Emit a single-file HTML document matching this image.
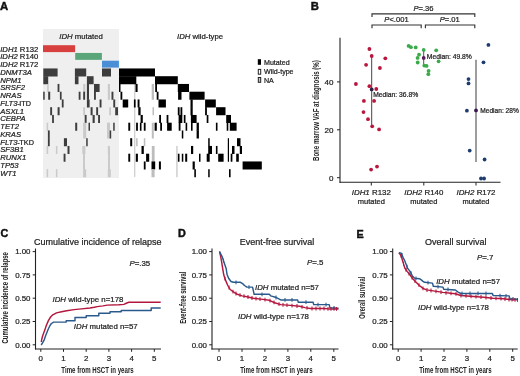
<!DOCTYPE html>
<html><head><meta charset="utf-8"><style>
html,body{margin:0;padding:0;background:#fff;}
svg{display:block;font-family:"Liberation Sans", sans-serif;filter:blur(0.35px);}
text{stroke:#222;stroke-width:0.22px;}
text[font-weight=bold]{stroke-width:0;}
text.pl{stroke:#111;stroke-width:0.45px;}
</style></head><body>
<svg width="520" height="376" viewBox="0 0 520 376">
<rect width="520" height="376" fill="#fff"/>
<rect x="43" y="29" width="76" height="149" fill="#efefef"/>
<rect x="43" y="45.2" width="32.1" height="6.9" fill="#d8403f"/>
<rect x="75.2" y="52.95" width="26.7" height="6.9" fill="#5aa57a"/>
<rect x="102" y="60.7" width="16.9" height="6.9" fill="#4a8fd6"/>
<rect x="134.2" y="83.95" width="1.1" height="92.99999999999999" fill="#c6c6c6"/>
<rect x="43.3" y="68.45" width="14.3" height="8.05" fill="#3d3d3d"/>
<rect x="74.9" y="68.45" width="11.3" height="8.05" fill="#3d3d3d"/>
<rect x="102.0" y="68.45" width="9.0" height="8.05" fill="#3d3d3d"/>
<rect x="119.0" y="68.45" width="36.0" height="8.05" fill="#000"/>
<rect x="43.3" y="76.20" width="4.9" height="8.05" fill="#3d3d3d"/>
<rect x="74.9" y="76.20" width="3.6" height="8.05" fill="#3d3d3d"/>
<rect x="86.9" y="76.20" width="6.7" height="8.05" fill="#3d3d3d"/>
<rect x="119.0" y="76.20" width="17.3" height="8.05" fill="#000"/>
<rect x="155.0" y="76.20" width="22.8" height="8.05" fill="#000"/>
<rect x="47.2" y="83.95" width="1.5" height="8.05" fill="#cacaca"/>
<rect x="83.2" y="83.95" width="2.2" height="8.05" fill="#cacaca"/>
<rect x="107.8" y="83.95" width="2.2" height="8.05" fill="#cacaca"/>
<rect x="57.6" y="83.95" width="1.8" height="8.05" fill="#3d3d3d"/>
<rect x="86.9" y="83.95" width="2.1" height="8.05" fill="#3d3d3d"/>
<rect x="94.0" y="83.95" width="5.6" height="8.05" fill="#3d3d3d"/>
<rect x="151.7" y="83.95" width="2.3" height="8.05" fill="#bdbdbd"/>
<rect x="119.0" y="83.95" width="1.5" height="8.05" fill="#000"/>
<rect x="135.5" y="83.95" width="2.1" height="8.05" fill="#000"/>
<rect x="155.2" y="83.95" width="1.8" height="8.05" fill="#000"/>
<rect x="177.8" y="83.95" width="11.2" height="8.05" fill="#000"/>
<rect x="107.8" y="91.70" width="2.2" height="8.05" fill="#cacaca"/>
<rect x="43.2" y="91.70" width="1.5" height="8.05" fill="#3d3d3d"/>
<rect x="48.2" y="91.70" width="2.0" height="8.05" fill="#3d3d3d"/>
<rect x="59.9" y="91.70" width="1.7" height="8.05" fill="#3d3d3d"/>
<rect x="78.7" y="91.70" width="1.8" height="8.05" fill="#3d3d3d"/>
<rect x="83.2" y="91.70" width="1.9" height="8.05" fill="#3d3d3d"/>
<rect x="86.9" y="91.70" width="2.1" height="8.05" fill="#3d3d3d"/>
<rect x="94.0" y="91.70" width="1.9" height="8.05" fill="#3d3d3d"/>
<rect x="111.5" y="91.70" width="1.9" height="8.05" fill="#3d3d3d"/>
<rect x="151.7" y="91.70" width="2.3" height="8.05" fill="#bdbdbd"/>
<rect x="120.5" y="91.70" width="1.8" height="8.05" fill="#000"/>
<rect x="156.7" y="91.70" width="1.8" height="8.05" fill="#000"/>
<rect x="178.1" y="91.70" width="3.4" height="8.05" fill="#000"/>
<rect x="189.4" y="91.70" width="15.2" height="8.05" fill="#000"/>
<rect x="61.8" y="99.45" width="1.8" height="8.05" fill="#3d3d3d"/>
<rect x="86.9" y="99.45" width="2.7" height="8.05" fill="#3d3d3d"/>
<rect x="99.6" y="99.45" width="1.9" height="8.05" fill="#3d3d3d"/>
<rect x="113.3" y="99.45" width="1.9" height="8.05" fill="#3d3d3d"/>
<rect x="122.7" y="99.45" width="5.5" height="8.05" fill="#000"/>
<rect x="133.9" y="99.45" width="1.7" height="8.05" fill="#000"/>
<rect x="137.6" y="99.45" width="1.9" height="8.05" fill="#000"/>
<rect x="158.5" y="99.45" width="7.4" height="8.05" fill="#000"/>
<rect x="190.5" y="99.45" width="2.2" height="8.05" fill="#000"/>
<rect x="205.1" y="99.45" width="10.7" height="8.05" fill="#000"/>
<rect x="83.2" y="107.20" width="1.9" height="8.05" fill="#cacaca"/>
<rect x="109.2" y="107.20" width="1.8" height="8.05" fill="#cacaca"/>
<rect x="50.2" y="107.20" width="1.9" height="8.05" fill="#3d3d3d"/>
<rect x="57.6" y="107.20" width="2.0" height="8.05" fill="#3d3d3d"/>
<rect x="90.6" y="107.20" width="2.0" height="8.05" fill="#3d3d3d"/>
<rect x="96.2" y="107.20" width="1.9" height="8.05" fill="#3d3d3d"/>
<rect x="115.2" y="107.20" width="2.8" height="8.05" fill="#3d3d3d"/>
<rect x="152.5" y="107.20" width="1.5" height="8.05" fill="#bdbdbd"/>
<rect x="138.3" y="107.20" width="2.3" height="8.05" fill="#000"/>
<rect x="177.8" y="107.20" width="1.8" height="8.05" fill="#000"/>
<rect x="180.5" y="107.20" width="1.8" height="8.05" fill="#000"/>
<rect x="190.5" y="107.20" width="2.2" height="8.05" fill="#000"/>
<rect x="205.1" y="107.20" width="1.8" height="8.05" fill="#000"/>
<rect x="216.1" y="107.20" width="9.4" height="8.05" fill="#000"/>
<rect x="52.1" y="114.95" width="1.8" height="8.05" fill="#3d3d3d"/>
<rect x="84.7" y="114.95" width="1.9" height="8.05" fill="#3d3d3d"/>
<rect x="92.6" y="114.95" width="2.1" height="8.05" fill="#3d3d3d"/>
<rect x="98.1" y="114.95" width="1.9" height="8.05" fill="#3d3d3d"/>
<rect x="140.6" y="114.95" width="2.2" height="8.05" fill="#000"/>
<rect x="159.2" y="114.95" width="1.8" height="8.05" fill="#000"/>
<rect x="166.6" y="114.95" width="1.8" height="8.05" fill="#000"/>
<rect x="178.6" y="114.95" width="3.7" height="8.05" fill="#000"/>
<rect x="183.8" y="114.95" width="1.7" height="8.05" fill="#000"/>
<rect x="190.9" y="114.95" width="5.7" height="8.05" fill="#000"/>
<rect x="206.7" y="114.95" width="1.7" height="8.05" fill="#000"/>
<rect x="226.2" y="114.95" width="4.8" height="8.05" fill="#000"/>
<rect x="46.6" y="122.70" width="1.6" height="8.05" fill="#cacaca"/>
<rect x="83.1" y="122.70" width="3.1" height="8.05" fill="#cacaca"/>
<rect x="107.0" y="122.70" width="3.0" height="8.05" fill="#cacaca"/>
<rect x="75.2" y="122.70" width="2.0" height="8.05" fill="#3d3d3d"/>
<rect x="88.5" y="122.70" width="1.5" height="8.05" fill="#3d3d3d"/>
<rect x="113.2" y="122.70" width="1.5" height="8.05" fill="#3d3d3d"/>
<rect x="151.8" y="122.70" width="2.0" height="8.05" fill="#bdbdbd"/>
<rect x="128.3" y="122.70" width="1.9" height="8.05" fill="#000"/>
<rect x="136.1" y="122.70" width="1.8" height="8.05" fill="#000"/>
<rect x="139.9" y="122.70" width="1.6" height="8.05" fill="#000"/>
<rect x="143.8" y="122.70" width="1.8" height="8.05" fill="#000"/>
<rect x="154.6" y="122.70" width="2.2" height="8.05" fill="#000"/>
<rect x="160.2" y="122.70" width="1.8" height="8.05" fill="#000"/>
<rect x="167.1" y="122.70" width="4.6" height="8.05" fill="#000"/>
<rect x="178.7" y="122.70" width="1.8" height="8.05" fill="#000"/>
<rect x="185.6" y="122.70" width="1.6" height="8.05" fill="#000"/>
<rect x="191.0" y="122.70" width="1.6" height="8.05" fill="#000"/>
<rect x="196.6" y="122.70" width="2.3" height="8.05" fill="#000"/>
<rect x="215.9" y="122.70" width="1.6" height="8.05" fill="#000"/>
<rect x="226.7" y="122.70" width="1.6" height="8.05" fill="#000"/>
<rect x="229.8" y="122.70" width="6.8" height="8.05" fill="#000"/>
<rect x="83.1" y="130.45" width="3.1" height="8.05" fill="#cacaca"/>
<rect x="107.0" y="130.45" width="2.6" height="8.05" fill="#cacaca"/>
<rect x="47.9" y="130.45" width="1.8" height="8.05" fill="#3d3d3d"/>
<rect x="109.6" y="130.45" width="1.6" height="8.05" fill="#3d3d3d"/>
<rect x="151.8" y="130.45" width="2.0" height="8.05" fill="#bdbdbd"/>
<rect x="181.8" y="130.45" width="1.5" height="8.05" fill="#000"/>
<rect x="196.6" y="130.45" width="2.3" height="8.05" fill="#000"/>
<rect x="47.9" y="138.20" width="1.8" height="8.05" fill="#3d3d3d"/>
<rect x="63.9" y="138.20" width="3.1" height="8.05" fill="#3d3d3d"/>
<rect x="86.2" y="138.20" width="1.5" height="8.05" fill="#3d3d3d"/>
<rect x="136.1" y="138.20" width="1.5" height="8.05" fill="#bdbdbd"/>
<rect x="143.8" y="138.20" width="1.5" height="8.05" fill="#bdbdbd"/>
<rect x="130.2" y="138.20" width="2.0" height="8.05" fill="#000"/>
<rect x="208.2" y="138.20" width="1.5" height="8.05" fill="#000"/>
<rect x="227.8" y="138.20" width="1.2" height="8.05" fill="#000"/>
<rect x="237.0" y="138.20" width="3.5" height="8.05" fill="#000"/>
<rect x="46.6" y="145.95" width="1.6" height="8.05" fill="#cacaca"/>
<rect x="55.9" y="145.95" width="1.5" height="8.05" fill="#cacaca"/>
<rect x="82.3" y="145.95" width="3.1" height="8.05" fill="#cacaca"/>
<rect x="107.8" y="145.95" width="2.2" height="8.05" fill="#cacaca"/>
<rect x="67.5" y="145.95" width="2.0" height="8.05" fill="#3d3d3d"/>
<rect x="151.8" y="145.95" width="2.8" height="8.05" fill="#bdbdbd"/>
<rect x="176.4" y="145.95" width="1.1" height="8.05" fill="#bdbdbd"/>
<rect x="141.5" y="145.95" width="2.3" height="8.05" fill="#000"/>
<rect x="191.0" y="145.95" width="2.2" height="8.05" fill="#000"/>
<rect x="208.2" y="145.95" width="3.8" height="8.05" fill="#000"/>
<rect x="215.9" y="145.95" width="1.6" height="8.05" fill="#000"/>
<rect x="227.8" y="145.95" width="1.2" height="8.05" fill="#000"/>
<rect x="232.0" y="145.95" width="2.5" height="8.05" fill="#000"/>
<rect x="239.8" y="145.95" width="2.2" height="8.05" fill="#000"/>
<rect x="83.0" y="153.70" width="2.0" height="8.05" fill="#cacaca"/>
<rect x="108.0" y="153.70" width="2.0" height="8.05" fill="#cacaca"/>
<rect x="63.6" y="153.70" width="1.9" height="8.05" fill="#3d3d3d"/>
<rect x="151.8" y="153.70" width="2.8" height="8.05" fill="#bdbdbd"/>
<rect x="176.4" y="153.70" width="1.1" height="8.05" fill="#bdbdbd"/>
<rect x="128.3" y="153.70" width="1.9" height="8.05" fill="#000"/>
<rect x="135.8" y="153.70" width="2.1" height="8.05" fill="#000"/>
<rect x="146.1" y="153.70" width="3.1" height="8.05" fill="#000"/>
<rect x="177.9" y="153.70" width="1.6" height="8.05" fill="#000"/>
<rect x="181.8" y="153.70" width="1.5" height="8.05" fill="#000"/>
<rect x="185.2" y="153.70" width="2.0" height="8.05" fill="#000"/>
<rect x="199.0" y="153.70" width="1.5" height="8.05" fill="#000"/>
<rect x="206.7" y="153.70" width="3.0" height="8.05" fill="#000"/>
<rect x="218.2" y="153.70" width="5.4" height="8.05" fill="#000"/>
<rect x="227.8" y="153.70" width="1.2" height="8.05" fill="#000"/>
<rect x="230.7" y="153.70" width="1.7" height="8.05" fill="#000"/>
<rect x="236.2" y="153.70" width="2.6" height="8.05" fill="#000"/>
<rect x="83.0" y="161.45" width="2.0" height="8.05" fill="#cacaca"/>
<rect x="108.0" y="161.45" width="2.0" height="8.05" fill="#cacaca"/>
<rect x="176.4" y="161.45" width="1.1" height="8.05" fill="#bdbdbd"/>
<rect x="143.8" y="161.45" width="1.8" height="8.05" fill="#000"/>
<rect x="151.5" y="161.45" width="3.7" height="8.05" fill="#000"/>
<rect x="158.9" y="161.45" width="2.0" height="8.05" fill="#000"/>
<rect x="192.6" y="161.45" width="2.2" height="8.05" fill="#000"/>
<rect x="242.6" y="161.45" width="19.2" height="8.05" fill="#000"/>
<rect x="46.6" y="169.20" width="1.6" height="8.05" fill="#cacaca"/>
<rect x="55.9" y="169.20" width="1.5" height="8.05" fill="#cacaca"/>
<rect x="83.1" y="169.20" width="3.1" height="8.05" fill="#cacaca"/>
<rect x="107.8" y="169.20" width="3.0" height="8.05" fill="#cacaca"/>
<rect x="151.5" y="169.20" width="3.1" height="8.05" fill="#bdbdbd"/>
<rect x="176.4" y="169.20" width="1.1" height="8.05" fill="#bdbdbd"/>
<rect x="194.3" y="169.20" width="1.6" height="8.05" fill="#000"/>
<rect x="208.2" y="169.20" width="1.5" height="8.05" fill="#000"/>
<rect x="229.0" y="169.20" width="1.6" height="8.05" fill="#000"/>
<text x="0.2" y="51.6" font-size="7.7" fill="#222"><tspan font-style="italic">IDH1</tspan> R132</text>
<text x="0.2" y="59.4" font-size="7.7" fill="#222"><tspan font-style="italic">IDH2</tspan> R140</text>
<text x="0.2" y="67.1" font-size="7.7" fill="#222"><tspan font-style="italic">IDH2</tspan> R172</text>
<text x="0.2" y="74.9" font-size="7.7" fill="#222"><tspan font-style="italic">DNMT3A</tspan></text>
<text x="0.2" y="82.6" font-size="7.7" fill="#222"><tspan font-style="italic">NPM1</tspan></text>
<text x="0.2" y="90.4" font-size="7.7" fill="#222"><tspan font-style="italic">SRSF2</tspan></text>
<text x="0.2" y="98.1" font-size="7.7" fill="#222"><tspan font-style="italic">NRAS</tspan></text>
<text x="0.2" y="105.9" font-size="7.7" fill="#222"><tspan font-style="italic">FLT3</tspan><tspan dx="0" font-size="6.5">-</tspan><tspan dx="-0.4" font-size="7.3">ITD</tspan></text>
<text x="0.2" y="113.6" font-size="7.7" fill="#222"><tspan font-style="italic">ASXL1</tspan></text>
<text x="0.2" y="121.4" font-size="7.7" fill="#222"><tspan font-style="italic">CEBPA</tspan></text>
<text x="0.2" y="129.1" font-size="7.7" fill="#222"><tspan font-style="italic">TET2</tspan></text>
<text x="0.2" y="136.8" font-size="7.7" fill="#222"><tspan font-style="italic">KRAS</tspan></text>
<text x="0.2" y="144.6" font-size="7.7" fill="#222"><tspan font-style="italic">FLT3</tspan><tspan dx="0" font-size="6.5">-</tspan><tspan dx="-0.4" font-size="7.3">TKD</tspan></text>
<text x="0.2" y="152.3" font-size="7.7" fill="#222"><tspan font-style="italic">SF3B1</tspan></text>
<text x="0.2" y="160.1" font-size="7.7" fill="#222"><tspan font-style="italic">RUNX1</tspan></text>
<text x="0.2" y="167.8" font-size="7.7" fill="#222"><tspan font-style="italic">TP53</tspan></text>
<text x="0.2" y="175.6" font-size="7.7" fill="#222"><tspan font-style="italic">WT1</tspan></text>
<text x="59.3" y="38.8" font-size="7.75" fill="#222"><tspan font-style="italic">IDH</tspan> mutated</text>
<text x="177" y="38.6" font-size="7.75" fill="#222"><tspan font-style="italic">IDH</tspan> wild-type</text>
<rect x="257.8" y="59.2" width="3.2" height="5.6" fill="#000"/>
<rect x="258.3" y="69.4" width="2.4" height="4.8" fill="#fff" stroke="#222" stroke-width="1"/>
<rect x="258.3" y="77.5" width="2.4" height="4.8" fill="#c8c8c8" stroke="#222" stroke-width="1"/>
<text x="264" y="64.6" font-size="7.1" text-anchor="start" fill="#222" >Mutated</text>
<text x="264" y="73.8" font-size="7.1" text-anchor="start" fill="#222" >Wild-type</text>
<text x="264" y="82.5" font-size="7.1" text-anchor="start" fill="#222" >NA</text>
<text x="0" y="9.6" font-size="11.3" font-weight="bold" fill="#111" class="pl">A</text>
<text x="310.8" y="9.7" font-size="11.3" font-weight="bold" fill="#111" class="pl">B</text>
<line x1="340" y1="37.8" x2="340" y2="182.8" stroke="#222" stroke-width="1.1"/>
<line x1="339.5" y1="182.3" x2="500.5" y2="182.3" stroke="#222" stroke-width="1.1"/>
<line x1="337" y1="177.7" x2="340" y2="177.7" stroke="#222" stroke-width="1"/>
<text x="333.4" y="180.5" font-size="8" text-anchor="end" fill="#222" >0</text>
<line x1="337" y1="129.8" x2="340" y2="129.8" stroke="#222" stroke-width="1"/>
<text x="333.4" y="132.6" font-size="8" text-anchor="end" fill="#222" >20</text>
<line x1="337" y1="81.9" x2="340" y2="81.9" stroke="#222" stroke-width="1"/>
<text x="333.4" y="84.69999999999999" font-size="8" text-anchor="end" fill="#222" >40</text>
<line x1="371.3" y1="182.3" x2="371.3" y2="185.5" stroke="#222" stroke-width="1"/>
<line x1="423.8" y1="182.3" x2="423.8" y2="185.5" stroke="#222" stroke-width="1"/>
<line x1="476" y1="182.3" x2="476" y2="185.5" stroke="#222" stroke-width="1"/>
<text x="371.3" y="195.3" font-size="7.9" text-anchor="middle" fill="#222"><tspan font-style="italic">IDH1</tspan> R132</text>
<text x="371.3" y="204.3" font-size="7.5" text-anchor="middle" fill="#222" >mutated</text>
<text x="423.8" y="195.3" font-size="7.9" text-anchor="middle" fill="#222"><tspan font-style="italic">IDH2</tspan> R140</text>
<text x="423.8" y="204.3" font-size="7.5" text-anchor="middle" fill="#222" >mutated</text>
<text x="476" y="195.3" font-size="7.9" text-anchor="middle" fill="#222"><tspan font-style="italic">IDH2</tspan> R172</text>
<text x="476" y="204.3" font-size="7.5" text-anchor="middle" fill="#222" >mutated</text>
<text x="319.1" y="110.6" font-size="9.5" font-weight="bold" text-anchor="middle" fill="#222" transform="rotate(-90 319.1 110.6)" textLength="100.8" lengthAdjust="spacingAndGlyphs">Bone marrow VAF at diagnosis (%)</text>
<path d="M372 17.1 V13.8 H474.8 V17.1" fill="none" stroke="#333" stroke-width="1.15"/>
<path d="M372 28.3 V25 H421.2 V28.3" fill="none" stroke="#333" stroke-width="1.15"/>
<path d="M425.4 28.3 V25 H474.8 V28.3" fill="none" stroke="#333" stroke-width="1.15"/>
<text x="423.5" y="10.6" font-size="7.6" text-anchor="middle" fill="#222"><tspan font-style="italic">P</tspan>=.36</text>
<text x="396.5" y="21.8" font-size="7.6" text-anchor="middle" fill="#222"><tspan font-style="italic">P</tspan>&lt;.001</text>
<text x="449.7" y="21.8" font-size="7.6" text-anchor="middle" fill="#222"><tspan font-style="italic">P</tspan>=.01</text>
<line x1="371.7" y1="56" x2="371.7" y2="126.3" stroke="#444" stroke-width="1"/>
<line x1="423.7" y1="50" x2="423.7" y2="65.6" stroke="#555" stroke-width="1"/>
<line x1="476" y1="59.7" x2="476" y2="162" stroke="#6a6a6a" stroke-width="1.3"/>
<circle cx="369.4" cy="49.0" r="1.9" fill="#b8163c"/>
<circle cx="371.7" cy="56.0" r="1.9" fill="#b8163c"/>
<circle cx="385.3" cy="58.3" r="1.9" fill="#b8163c"/>
<circle cx="366.1" cy="64.8" r="1.9" fill="#b8163c"/>
<circle cx="379.9" cy="68.0" r="1.9" fill="#b8163c"/>
<circle cx="355.9" cy="84.0" r="1.9" fill="#b8163c"/>
<circle cx="369.4" cy="86.2" r="1.9" fill="#b8163c"/>
<circle cx="376.3" cy="89.0" r="1.9" fill="#b8163c"/>
<circle cx="363.9" cy="100.9" r="1.9" fill="#b8163c"/>
<circle cx="374.1" cy="100.9" r="1.9" fill="#b8163c"/>
<circle cx="363.5" cy="112.1" r="1.9" fill="#b8163c"/>
<circle cx="368" cy="119.2" r="1.9" fill="#b8163c"/>
<circle cx="372.2" cy="126.3" r="1.9" fill="#b8163c"/>
<circle cx="379.1" cy="129.4" r="1.9" fill="#b8163c"/>
<circle cx="371.1" cy="169.6" r="1.9" fill="#b8163c"/>
<circle cx="377" cy="166.6" r="1.9" fill="#b8163c"/>
<circle cx="408.6" cy="45.9" r="1.9" fill="#3aaa4a"/>
<circle cx="410.9" cy="47.2" r="1.9" fill="#3aaa4a"/>
<circle cx="415.7" cy="47.4" r="1.9" fill="#3aaa4a"/>
<circle cx="423.7" cy="49.9" r="1.9" fill="#3aaa4a"/>
<circle cx="436.2" cy="50.3" r="1.9" fill="#3aaa4a"/>
<circle cx="419" cy="54.7" r="1.9" fill="#3aaa4a"/>
<circle cx="417.6" cy="57.9" r="1.9" fill="#3aaa4a"/>
<circle cx="417.7" cy="62.5" r="1.9" fill="#3aaa4a"/>
<circle cx="438.6" cy="61.3" r="1.9" fill="#3aaa4a"/>
<circle cx="424.3" cy="65.6" r="1.9" fill="#3aaa4a"/>
<circle cx="426.6" cy="65.9" r="1.9" fill="#3aaa4a"/>
<circle cx="428.6" cy="70.9" r="1.9" fill="#3aaa4a"/>
<circle cx="428.3" cy="74.2" r="1.9" fill="#3aaa4a"/>
<circle cx="488.4" cy="44.9" r="1.9" fill="#1e3c6e"/>
<circle cx="483.5" cy="62.3" r="1.9" fill="#1e3c6e"/>
<circle cx="468.5" cy="79.1" r="1.9" fill="#1e3c6e"/>
<circle cx="468.5" cy="83.4" r="1.9" fill="#1e3c6e"/>
<circle cx="466.9" cy="110.7" r="1.9" fill="#1e3c6e"/>
<circle cx="469.7" cy="150.6" r="1.9" fill="#1e3c6e"/>
<circle cx="484.6" cy="159.5" r="1.9" fill="#1e3c6e"/>
<circle cx="481" cy="178.5" r="1.9" fill="#1e3c6e"/>
<circle cx="484.1" cy="178.5" r="1.9" fill="#1e3c6e"/>
<circle cx="371.7" cy="89.4" r="1.9" fill="#2a2048"/>
<circle cx="423.7" cy="57.9" r="1.9" fill="#5a1a5a"/>
<circle cx="476" cy="110.4" r="1.9" fill="#3a1a4a"/>
<text x="373.2" y="97.1" font-size="6.75" text-anchor="start" fill="#222" >Median: 36.8%</text>
<text x="426.8" y="58.7" font-size="6.75" text-anchor="start" fill="#222" >Median: 49.8%</text>
<text x="480.3" y="112.6" font-size="6.6" text-anchor="start" fill="#222" >Median: 28%</text>
<text x="0.6" y="237.4" font-size="10.8" font-weight="bold" fill="#111" class="pl">C</text>
<text x="33.9" y="244.8" font-size="9" text-anchor="start" fill="#222" >Cumulative incidence of relapse</text>
<line x1="35.5" y1="248.5" x2="35.5" y2="349.5" stroke="#222" stroke-width="1.1"/>
<line x1="35.0" y1="349" x2="161.0" y2="349" stroke="#222" stroke-width="1.1"/>
<line x1="32.7" y1="251.6" x2="35.5" y2="251.6" stroke="#222" stroke-width="1"/>
<text x="30.5" y="254.4" font-size="7.9" text-anchor="end" fill="#222" >1.00</text>
<line x1="32.7" y1="274.9" x2="35.5" y2="274.9" stroke="#222" stroke-width="1"/>
<text x="30.5" y="277.7" font-size="7.9" text-anchor="end" fill="#222" >0.75</text>
<line x1="32.7" y1="298.2" x2="35.5" y2="298.2" stroke="#222" stroke-width="1"/>
<text x="30.5" y="301.0" font-size="7.9" text-anchor="end" fill="#222" >0.50</text>
<line x1="32.7" y1="321.5" x2="35.5" y2="321.5" stroke="#222" stroke-width="1"/>
<text x="30.5" y="324.3" font-size="7.9" text-anchor="end" fill="#222" >0.25</text>
<line x1="32.7" y1="344.8" x2="35.5" y2="344.8" stroke="#222" stroke-width="1"/>
<text x="30.5" y="347.6" font-size="7.9" text-anchor="end" fill="#222" >0.00</text>
<line x1="40.8" y1="349" x2="40.8" y2="351.8" stroke="#222" stroke-width="1"/>
<text x="40.8" y="361.2" font-size="7.9" text-anchor="middle" fill="#222" >0</text>
<line x1="63.5" y1="349" x2="63.5" y2="351.8" stroke="#222" stroke-width="1"/>
<text x="63.5" y="361.2" font-size="7.9" text-anchor="middle" fill="#222" >1</text>
<line x1="86.2" y1="349" x2="86.2" y2="351.8" stroke="#222" stroke-width="1"/>
<text x="86.2" y="361.2" font-size="7.9" text-anchor="middle" fill="#222" >2</text>
<line x1="108.9" y1="349" x2="108.9" y2="351.8" stroke="#222" stroke-width="1"/>
<text x="108.9" y="361.2" font-size="7.9" text-anchor="middle" fill="#222" >3</text>
<line x1="131.6" y1="349" x2="131.6" y2="351.8" stroke="#222" stroke-width="1"/>
<text x="131.6" y="361.2" font-size="7.9" text-anchor="middle" fill="#222" >4</text>
<line x1="154.3" y1="349" x2="154.3" y2="351.8" stroke="#222" stroke-width="1"/>
<text x="154.3" y="361.2" font-size="7.9" text-anchor="middle" fill="#222" >5</text>
<text x="97.5" y="373.2" font-size="9" font-weight="bold" text-anchor="middle" fill="#222" textLength="72.3" lengthAdjust="spacingAndGlyphs">Time from HSCT in years</text>
<text x="8.0" y="297.8" font-size="9" font-weight="bold" text-anchor="middle" fill="#222" transform="rotate(-90 8.0 297.8)" textLength="91.5" lengthAdjust="spacingAndGlyphs">Cumulative incidence of relapse</text>
<text x="129.4" y="266" font-size="7.9" fill="#222"><tspan font-style="italic">P</tspan>=.35</text>
<path d="M41.2 345.0 L44.0 340.4 L45.5 336.0 L47.0 332.3 L48.4 328.7 L49.9 325.7 L51.4 323.5 L53.6 322.1 L66.2 322.1 L66.2 320.8 L75.0 320.8 L75.0 317.5 L86.2 317.5 L86.2 315.8 L98.8 315.8 L98.8 313.2 L110.0 313.2 L110.0 311.8 L121.2 311.8 L121.2 310.5 L151.2 310.5 L151.2 308.0 L160.7 308.0" fill="none" stroke="#2a5a8c" stroke-width="1.45" stroke-linejoin="round"/>
<path d="M41.3 342.0 L41.7 339.5 L42.6 336.0 L44.8 330.1 L46.2 325.7 L48.4 320.6 L50.6 317.0 L52.8 314.8 L56.5 312.9 L61.6 311.8 L66.7 310.8 L74.0 309.6 L81.4 308.9 L90.0 308.0 L94.3 307.3 L97.2 306.6 L103.0 305.9 L107.3 305.1 L118.8 304.7 L123.9 304.4 L126.8 303.0 L128.9 302.3 L160.7 302.3" fill="none" stroke="#b3173d" stroke-width="1.45" stroke-linejoin="round"/>
<text x="52.5" y="302.2" font-size="7.85" fill="#222"><tspan font-style="italic">IDH</tspan> wild-type n=178</text>
<text x="73.8" y="329" font-size="7.85" fill="#222"><tspan font-style="italic">IDH</tspan> mutated n=57</text>
<text x="178" y="237.3" font-size="10.8" font-weight="bold" fill="#111" class="pl">D</text>
<text x="239.7" y="244.8" font-size="9" text-anchor="start" fill="#222" >Event-free survival</text>
<line x1="212" y1="248.5" x2="212" y2="349.5" stroke="#222" stroke-width="1.1"/>
<line x1="211.5" y1="349" x2="338.5" y2="349" stroke="#222" stroke-width="1.1"/>
<line x1="209.2" y1="251.6" x2="212" y2="251.6" stroke="#222" stroke-width="1"/>
<text x="207" y="254.4" font-size="7.9" text-anchor="end" fill="#222" >1.00</text>
<line x1="209.2" y1="274.9" x2="212" y2="274.9" stroke="#222" stroke-width="1"/>
<text x="207" y="277.7" font-size="7.9" text-anchor="end" fill="#222" >0.75</text>
<line x1="209.2" y1="298.2" x2="212" y2="298.2" stroke="#222" stroke-width="1"/>
<text x="207" y="301.0" font-size="7.9" text-anchor="end" fill="#222" >0.50</text>
<line x1="209.2" y1="321.5" x2="212" y2="321.5" stroke="#222" stroke-width="1"/>
<text x="207" y="324.3" font-size="7.9" text-anchor="end" fill="#222" >0.25</text>
<line x1="209.2" y1="344.8" x2="212" y2="344.8" stroke="#222" stroke-width="1"/>
<text x="207" y="347.6" font-size="7.9" text-anchor="end" fill="#222" >0.00</text>
<line x1="219.0" y1="349" x2="219.0" y2="351.8" stroke="#222" stroke-width="1"/>
<text x="219.0" y="361.2" font-size="7.9" text-anchor="middle" fill="#222" >0</text>
<line x1="242.0" y1="349" x2="242.0" y2="351.8" stroke="#222" stroke-width="1"/>
<text x="242.0" y="361.2" font-size="7.9" text-anchor="middle" fill="#222" >1</text>
<line x1="264.9" y1="349" x2="264.9" y2="351.8" stroke="#222" stroke-width="1"/>
<text x="264.9" y="361.2" font-size="7.9" text-anchor="middle" fill="#222" >2</text>
<line x1="287.9" y1="349" x2="287.9" y2="351.8" stroke="#222" stroke-width="1"/>
<text x="287.9" y="361.2" font-size="7.9" text-anchor="middle" fill="#222" >3</text>
<line x1="310.8" y1="349" x2="310.8" y2="351.8" stroke="#222" stroke-width="1"/>
<text x="310.8" y="361.2" font-size="7.9" text-anchor="middle" fill="#222" >4</text>
<line x1="333.8" y1="349" x2="333.8" y2="351.8" stroke="#222" stroke-width="1"/>
<text x="333.8" y="361.2" font-size="7.9" text-anchor="middle" fill="#222" >5</text>
<text x="276.4" y="373.2" font-size="9" font-weight="bold" text-anchor="middle" fill="#222" textLength="72.3" lengthAdjust="spacingAndGlyphs">Time from HSCT in years</text>
<text x="185.8" y="297.8" font-size="9" font-weight="bold" text-anchor="middle" fill="#222" transform="rotate(-90 185.8 297.8)" textLength="52.1" lengthAdjust="spacingAndGlyphs">Event-free survival</text>
<text x="306.9" y="265.4" font-size="7.9" fill="#222"><tspan font-style="italic">P</tspan>=.5</text>
<path d="M219.5 251.5 L220.6 256.0 L221.7 262.4 L222.7 268.7 L223.8 275.1 L225.4 279.9 L227.8 285.5 L230.2 289.5 L233.4 291.9 L237.3 294.3 L242.1 295.9 L246.9 296.7 L253.3 298.3 L262.9 299.4 L269.3 300.3 L275.4 303.0 L280.8 304.6 L290.2 305.4 L299.6 306.2 L305.0 307.6 L310.4 308.5 L323.8 308.5 L329.2 308.9 L338.5 308.9" fill="none" stroke="#b3173d" stroke-width="1.45" stroke-linejoin="round"/>
<path d="M219.5 251.5 L222.2 256.8 L224.6 264.0 L226.2 268.7 L227.0 274.3 L228.6 278.3 L231.0 281.5 L233.4 282.3 L240.5 282.3 L243.0 283.9 L244.5 285.5 L246.9 287.1 L252.5 287.1 L253.3 290.3 L254.1 294.3 L269.3 294.3 L270.8 295.9 L275.4 297.2 L280.8 299.9 L297.6 299.9 L298.3 302.2 L313.1 302.2 L313.7 304.6 L329.2 304.6 L329.9 307.6 L338.5 308.3" fill="none" stroke="#2a5a8c" stroke-width="1.45" stroke-linejoin="round"/>
<text x="255" y="290.2" font-size="7.85" fill="#222"><tspan font-style="italic">IDH</tspan> mutated n=57</text>
<text x="238" y="319.4" font-size="7.85" fill="#222"><tspan font-style="italic">IDH</tspan> wild-type n=178</text>
<line x1="223.5" y1="258.8" x2="223.5" y2="262.6" stroke="#2a5a8c" stroke-width="1.05"/>
<line x1="236.0" y1="280.4" x2="236.0" y2="284.2" stroke="#2a5a8c" stroke-width="1.05"/>
<line x1="249.0" y1="285.2" x2="249.0" y2="289.0" stroke="#2a5a8c" stroke-width="1.05"/>
<line x1="262.0" y1="292.4" x2="262.0" y2="296.2" stroke="#2a5a8c" stroke-width="1.05"/>
<line x1="276.0" y1="295.6" x2="276.0" y2="299.4" stroke="#2a5a8c" stroke-width="1.05"/>
<line x1="285.0" y1="298.0" x2="285.0" y2="301.8" stroke="#2a5a8c" stroke-width="1.05"/>
<line x1="292.0" y1="298.0" x2="292.0" y2="301.8" stroke="#2a5a8c" stroke-width="1.05"/>
<line x1="306.0" y1="300.3" x2="306.0" y2="304.1" stroke="#2a5a8c" stroke-width="1.05"/>
<line x1="318.0" y1="302.7" x2="318.0" y2="306.5" stroke="#2a5a8c" stroke-width="1.05"/>
<line x1="326.0" y1="302.7" x2="326.0" y2="306.5" stroke="#2a5a8c" stroke-width="1.05"/>
<line x1="334.0" y1="306.0" x2="334.0" y2="309.8" stroke="#2a5a8c" stroke-width="1.05"/>
<line x1="222.5" y1="265.5" x2="222.5" y2="269.3" stroke="#b3173d" stroke-width="1.05"/>
<line x1="225.0" y1="276.8" x2="225.0" y2="280.6" stroke="#b3173d" stroke-width="1.05"/>
<line x1="229.0" y1="285.6" x2="229.0" y2="289.4" stroke="#b3173d" stroke-width="1.05"/>
<line x1="233.0" y1="289.7" x2="233.0" y2="293.5" stroke="#b3173d" stroke-width="1.05"/>
<line x1="236.0" y1="291.6" x2="236.0" y2="295.4" stroke="#b3173d" stroke-width="1.05"/>
<line x1="240.0" y1="293.3" x2="240.0" y2="297.1" stroke="#b3173d" stroke-width="1.05"/>
<line x1="244.0" y1="294.3" x2="244.0" y2="298.1" stroke="#b3173d" stroke-width="1.05"/>
<line x1="248.0" y1="295.1" x2="248.0" y2="298.9" stroke="#b3173d" stroke-width="1.05"/>
<line x1="252.0" y1="296.1" x2="252.0" y2="299.9" stroke="#b3173d" stroke-width="1.05"/>
<line x1="256.0" y1="296.7" x2="256.0" y2="300.5" stroke="#b3173d" stroke-width="1.05"/>
<line x1="260.0" y1="297.2" x2="260.0" y2="301.0" stroke="#b3173d" stroke-width="1.05"/>
<line x1="265.0" y1="297.8" x2="265.0" y2="301.6" stroke="#b3173d" stroke-width="1.05"/>
<line x1="270.0" y1="298.7" x2="270.0" y2="302.5" stroke="#b3173d" stroke-width="1.05"/>
<line x1="274.0" y1="300.5" x2="274.0" y2="304.3" stroke="#b3173d" stroke-width="1.05"/>
<line x1="279.0" y1="302.2" x2="279.0" y2="306.0" stroke="#b3173d" stroke-width="1.05"/>
<line x1="283.0" y1="302.9" x2="283.0" y2="306.7" stroke="#b3173d" stroke-width="1.05"/>
<line x1="287.0" y1="303.2" x2="287.0" y2="307.0" stroke="#b3173d" stroke-width="1.05"/>
<line x1="292.0" y1="303.7" x2="292.0" y2="307.5" stroke="#b3173d" stroke-width="1.05"/>
<line x1="297.0" y1="304.1" x2="297.0" y2="307.9" stroke="#b3173d" stroke-width="1.05"/>
<line x1="302.0" y1="304.9" x2="302.0" y2="308.7" stroke="#b3173d" stroke-width="1.05"/>
<line x1="307.0" y1="306.0" x2="307.0" y2="309.8" stroke="#b3173d" stroke-width="1.05"/>
<line x1="312.0" y1="306.6" x2="312.0" y2="310.4" stroke="#b3173d" stroke-width="1.05"/>
<line x1="316.0" y1="306.6" x2="316.0" y2="310.4" stroke="#b3173d" stroke-width="1.05"/>
<line x1="320.0" y1="306.6" x2="320.0" y2="310.4" stroke="#b3173d" stroke-width="1.05"/>
<line x1="324.0" y1="306.6" x2="324.0" y2="310.4" stroke="#b3173d" stroke-width="1.05"/>
<line x1="328.0" y1="306.9" x2="328.0" y2="310.7" stroke="#b3173d" stroke-width="1.05"/>
<line x1="331.0" y1="307.0" x2="331.0" y2="310.8" stroke="#b3173d" stroke-width="1.05"/>
<line x1="334.0" y1="307.0" x2="334.0" y2="310.8" stroke="#b3173d" stroke-width="1.05"/>
<line x1="336.5" y1="307.0" x2="336.5" y2="310.8" stroke="#b3173d" stroke-width="1.05"/>
<text x="356.4" y="238.1" font-size="10.8" font-weight="bold" fill="#111" class="pl">E</text>
<text x="425" y="244.8" font-size="9" text-anchor="start" fill="#222" >Overall survival</text>
<line x1="392.7" y1="248.5" x2="392.7" y2="349.5" stroke="#222" stroke-width="1.1"/>
<line x1="392.2" y1="349" x2="517.7" y2="349" stroke="#222" stroke-width="1.1"/>
<line x1="389.9" y1="251.6" x2="392.7" y2="251.6" stroke="#222" stroke-width="1"/>
<text x="387.7" y="254.4" font-size="7.9" text-anchor="end" fill="#222" >1.00</text>
<line x1="389.9" y1="274.9" x2="392.7" y2="274.9" stroke="#222" stroke-width="1"/>
<text x="387.7" y="277.7" font-size="7.9" text-anchor="end" fill="#222" >0.75</text>
<line x1="389.9" y1="298.2" x2="392.7" y2="298.2" stroke="#222" stroke-width="1"/>
<text x="387.7" y="301.0" font-size="7.9" text-anchor="end" fill="#222" >0.50</text>
<line x1="389.9" y1="321.5" x2="392.7" y2="321.5" stroke="#222" stroke-width="1"/>
<text x="387.7" y="324.3" font-size="7.9" text-anchor="end" fill="#222" >0.25</text>
<line x1="389.9" y1="344.8" x2="392.7" y2="344.8" stroke="#222" stroke-width="1"/>
<text x="387.7" y="347.6" font-size="7.9" text-anchor="end" fill="#222" >0.00</text>
<line x1="398.2" y1="349" x2="398.2" y2="351.8" stroke="#222" stroke-width="1"/>
<text x="398.2" y="361.2" font-size="7.9" text-anchor="middle" fill="#222" >0</text>
<line x1="421.1" y1="349" x2="421.1" y2="351.8" stroke="#222" stroke-width="1"/>
<text x="421.1" y="361.2" font-size="7.9" text-anchor="middle" fill="#222" >1</text>
<line x1="444.0" y1="349" x2="444.0" y2="351.8" stroke="#222" stroke-width="1"/>
<text x="444.0" y="361.2" font-size="7.9" text-anchor="middle" fill="#222" >2</text>
<line x1="466.9" y1="349" x2="466.9" y2="351.8" stroke="#222" stroke-width="1"/>
<text x="466.9" y="361.2" font-size="7.9" text-anchor="middle" fill="#222" >3</text>
<line x1="489.8" y1="349" x2="489.8" y2="351.8" stroke="#222" stroke-width="1"/>
<text x="489.8" y="361.2" font-size="7.9" text-anchor="middle" fill="#222" >4</text>
<line x1="512.7" y1="349" x2="512.7" y2="351.8" stroke="#222" stroke-width="1"/>
<text x="512.7" y="361.2" font-size="7.9" text-anchor="middle" fill="#222" >5</text>
<text x="455.4" y="373.2" font-size="9" font-weight="bold" text-anchor="middle" fill="#222" textLength="72.3" lengthAdjust="spacingAndGlyphs">Time from HSCT in years</text>
<text x="365.1" y="297.8" font-size="9" font-weight="bold" text-anchor="middle" fill="#222" transform="rotate(-90 365.1 297.8)" textLength="42" lengthAdjust="spacingAndGlyphs">Overall survival</text>
<text x="476.9" y="260" font-size="7.9" fill="#222"><tspan font-style="italic">P</tspan>=.7</text>
<path d="M398.9 252.7 L401.3 256.2 L403.0 262.1 L404.8 268.0 L407.1 271.4 L410.1 275.0 L413.0 279.1 L415.9 282.0 L419.4 285.5 L423.0 288.4 L426.5 289.9 L434.9 291.1 L442.9 292.4 L450.8 293.3 L455.4 293.7 L460.8 295.5 L470.2 296.2 L483.6 297.2 L493.1 298.2 L503.8 298.8 L509.2 299.5 L518.0 299.9" fill="none" stroke="#b3173d" stroke-width="1.45" stroke-linejoin="round"/>
<path d="M398.9 252.7 L401.3 253.3 L403.0 257.4 L404.8 260.9 L406.6 265.6 L407.7 268.5 L410.1 271.4 L412.4 276.1 L414.8 278.2 L419.4 278.7 L421.3 279.9 L423.0 281.4 L424.5 282.3 L432.5 283.1 L433.3 286.3 L442.9 287.1 L443.7 289.2 L455.4 290.0 L458.1 292.1 L460.8 293.5 L492.4 293.5 L493.1 295.5 L509.2 295.9 L509.9 298.8 L518.0 299.2" fill="none" stroke="#2a5a8c" stroke-width="1.45" stroke-linejoin="round"/>
<text x="436.2" y="284" font-size="7.85" fill="#222"><tspan font-style="italic">IDH</tspan> mutated n=57</text>
<text x="418" y="309.7" font-size="7.85" fill="#222"><tspan font-style="italic">IDH</tspan> wild-type n=178</text>
<line x1="402.0" y1="253.1" x2="402.0" y2="256.9" stroke="#2a5a8c" stroke-width="1.05"/>
<line x1="407.0" y1="264.8" x2="407.0" y2="268.6" stroke="#2a5a8c" stroke-width="1.05"/>
<line x1="411.0" y1="271.3" x2="411.0" y2="275.1" stroke="#2a5a8c" stroke-width="1.05"/>
<line x1="416.0" y1="276.4" x2="416.0" y2="280.2" stroke="#2a5a8c" stroke-width="1.05"/>
<line x1="428.0" y1="280.8" x2="428.0" y2="284.6" stroke="#2a5a8c" stroke-width="1.05"/>
<line x1="438.0" y1="284.8" x2="438.0" y2="288.6" stroke="#2a5a8c" stroke-width="1.05"/>
<line x1="448.0" y1="287.6" x2="448.0" y2="291.4" stroke="#2a5a8c" stroke-width="1.05"/>
<line x1="462.0" y1="291.6" x2="462.0" y2="295.4" stroke="#2a5a8c" stroke-width="1.05"/>
<line x1="470.0" y1="291.6" x2="470.0" y2="295.4" stroke="#2a5a8c" stroke-width="1.05"/>
<line x1="478.0" y1="291.6" x2="478.0" y2="295.4" stroke="#2a5a8c" stroke-width="1.05"/>
<line x1="486.0" y1="291.6" x2="486.0" y2="295.4" stroke="#2a5a8c" stroke-width="1.05"/>
<line x1="500.0" y1="293.8" x2="500.0" y2="297.6" stroke="#2a5a8c" stroke-width="1.05"/>
<line x1="506.0" y1="293.9" x2="506.0" y2="297.7" stroke="#2a5a8c" stroke-width="1.05"/>
<line x1="513.0" y1="297.1" x2="513.0" y2="300.9" stroke="#2a5a8c" stroke-width="1.05"/>
<line x1="401.0" y1="253.9" x2="401.0" y2="257.7" stroke="#b3173d" stroke-width="1.05"/>
<line x1="403.5" y1="261.8" x2="403.5" y2="265.6" stroke="#b3173d" stroke-width="1.05"/>
<line x1="406.0" y1="267.9" x2="406.0" y2="271.7" stroke="#b3173d" stroke-width="1.05"/>
<line x1="409.0" y1="271.8" x2="409.0" y2="275.6" stroke="#b3173d" stroke-width="1.05"/>
<line x1="412.0" y1="275.8" x2="412.0" y2="279.6" stroke="#b3173d" stroke-width="1.05"/>
<line x1="415.0" y1="279.2" x2="415.0" y2="283.0" stroke="#b3173d" stroke-width="1.05"/>
<line x1="419.0" y1="283.2" x2="419.0" y2="287.0" stroke="#b3173d" stroke-width="1.05"/>
<line x1="423.0" y1="286.5" x2="423.0" y2="290.3" stroke="#b3173d" stroke-width="1.05"/>
<line x1="427.0" y1="288.1" x2="427.0" y2="291.9" stroke="#b3173d" stroke-width="1.05"/>
<line x1="431.0" y1="288.6" x2="431.0" y2="292.4" stroke="#b3173d" stroke-width="1.05"/>
<line x1="436.0" y1="289.4" x2="436.0" y2="293.2" stroke="#b3173d" stroke-width="1.05"/>
<line x1="441.0" y1="290.2" x2="441.0" y2="294.0" stroke="#b3173d" stroke-width="1.05"/>
<line x1="446.0" y1="290.9" x2="446.0" y2="294.7" stroke="#b3173d" stroke-width="1.05"/>
<line x1="451.0" y1="291.4" x2="451.0" y2="295.2" stroke="#b3173d" stroke-width="1.05"/>
<line x1="456.0" y1="292.0" x2="456.0" y2="295.8" stroke="#b3173d" stroke-width="1.05"/>
<line x1="461.0" y1="293.6" x2="461.0" y2="297.4" stroke="#b3173d" stroke-width="1.05"/>
<line x1="466.0" y1="294.0" x2="466.0" y2="297.8" stroke="#b3173d" stroke-width="1.05"/>
<line x1="471.0" y1="294.4" x2="471.0" y2="298.2" stroke="#b3173d" stroke-width="1.05"/>
<line x1="476.0" y1="294.7" x2="476.0" y2="298.5" stroke="#b3173d" stroke-width="1.05"/>
<line x1="481.0" y1="295.1" x2="481.0" y2="298.9" stroke="#b3173d" stroke-width="1.05"/>
<line x1="486.0" y1="295.6" x2="486.0" y2="299.4" stroke="#b3173d" stroke-width="1.05"/>
<line x1="491.0" y1="296.1" x2="491.0" y2="299.9" stroke="#b3173d" stroke-width="1.05"/>
<line x1="496.0" y1="296.5" x2="496.0" y2="300.3" stroke="#b3173d" stroke-width="1.05"/>
<line x1="501.0" y1="296.7" x2="501.0" y2="300.5" stroke="#b3173d" stroke-width="1.05"/>
<line x1="505.0" y1="297.1" x2="505.0" y2="300.9" stroke="#b3173d" stroke-width="1.05"/>
<line x1="509.0" y1="297.6" x2="509.0" y2="301.4" stroke="#b3173d" stroke-width="1.05"/>
<line x1="512.0" y1="297.7" x2="512.0" y2="301.5" stroke="#b3173d" stroke-width="1.05"/>
<line x1="515.0" y1="297.9" x2="515.0" y2="301.7" stroke="#b3173d" stroke-width="1.05"/>
<line x1="517.5" y1="298.0" x2="517.5" y2="301.8" stroke="#b3173d" stroke-width="1.05"/>
</svg>
</body></html>
